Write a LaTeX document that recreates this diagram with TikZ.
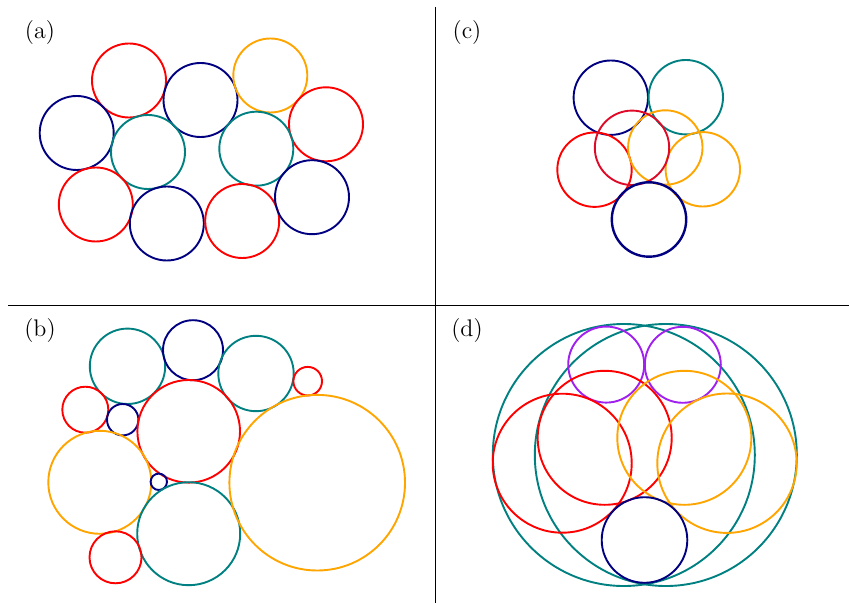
\documentclass[tikz,border=0pt]{standalone}
\usetikzlibrary{positioning}

\definecolor{ringnavy}{RGB}{0,0,128}
\definecolor{ringteal}{RGB}{0,128,128}
\definecolor{ringorange}{RGB}{255,165,0}
\definecolor{ringpurple}{RGB}{160,32,240}
\definecolor{ringcrimson}{RGB}{222,10,40}

\begin{document}
\begin{tikzpicture}[
    x=0.5pt, y=-0.5pt,
    every node/.style={font=\large},
    ring/.style={line width=0.95pt},
    divider/.style={line width=0.55pt, black},
]
\useasboundingbox (0,0) rectangle (849,603);

% Panel dividers
\draw[divider] (435.5,7) -- (435.5,603);
\draw[divider] (8,305.5) -- (849,305.5);

% Panel labels
\node (la) at (40,33) {(a)};
\node (lb) at (40,331) {(b)};
\node (lc) at (467,33) {(c)};
\node (ld) at (467,331) {(d)};

% (a) ring of equal circles
\foreach \x/\y/\c in {
    129/80.5/red, 200.5/100/ringnavy, 270.3/75.5/ringorange,
    326/124.3/red, 76.7/133/ringnavy, 148/152/ringteal,
    256.3/148.7/ringteal, 95.8/204.5/red, 166.8/223.5/ringnavy,
    242.2/221/red, 312/197.2/ringnavy} {
    \draw[ring, \c] (\x,\y) circle[radius=37];
}

% (c) overlapping cluster
\foreach \x/\y/\c in {
    610.8/97.7/ringnavy, 685.8/97.2/ringteal,
    594.5/169.7/red, 702.8/169.3/ringorange,
    665.3/147.5/ringorange, 632/147.8/ringcrimson} {
    \draw[ring, \c] (\x,\y) circle[radius=37.2];
}
\draw[ring, ringnavy, line width=1.2pt] (649,219.5) circle[radius=37.2];

% (b) circles of mixed sizes
\foreach \x/\y/\r/\c in {
    127.5/366.3/37.7/ringteal, 193/350.2/30/ringnavy,
    256/373.5/37.7/ringteal, 307.7/381.2/14.3/red,
    85.3/409.7/23/red, 122.7/419.7/15.7/ringnavy,
    188.7/431.3/51.3/red, 99.8/482.3/51.5/ringorange,
    158.8/481.8/8.2/ringnavy, 188.7/533.7/51.5/ringteal,
    115.5/557.3/26/red, 317.2/482.7/87.8/ringorange} {
    \draw[ring, \c] (\x,\y) circle[radius=\r];
}

% (d) nested circles
\foreach \x/\y/\r/\c in {
    623.8/455/131/ringteal, 665.8/455/131/ringteal,
    606.2/364.6/38/ringpurple, 682.8/364.8/38/ringpurple,
    562.2/463.2/69.5/red, 604.7/437.8/67/red,
    684.3/437.8/67/ringorange, 727/463.2/69.7/ringorange,
    644.5/540/42.8/ringnavy} {
    \draw[ring, \c] (\x,\y) circle[radius=\r];
}

\end{tikzpicture}
\end{document}
